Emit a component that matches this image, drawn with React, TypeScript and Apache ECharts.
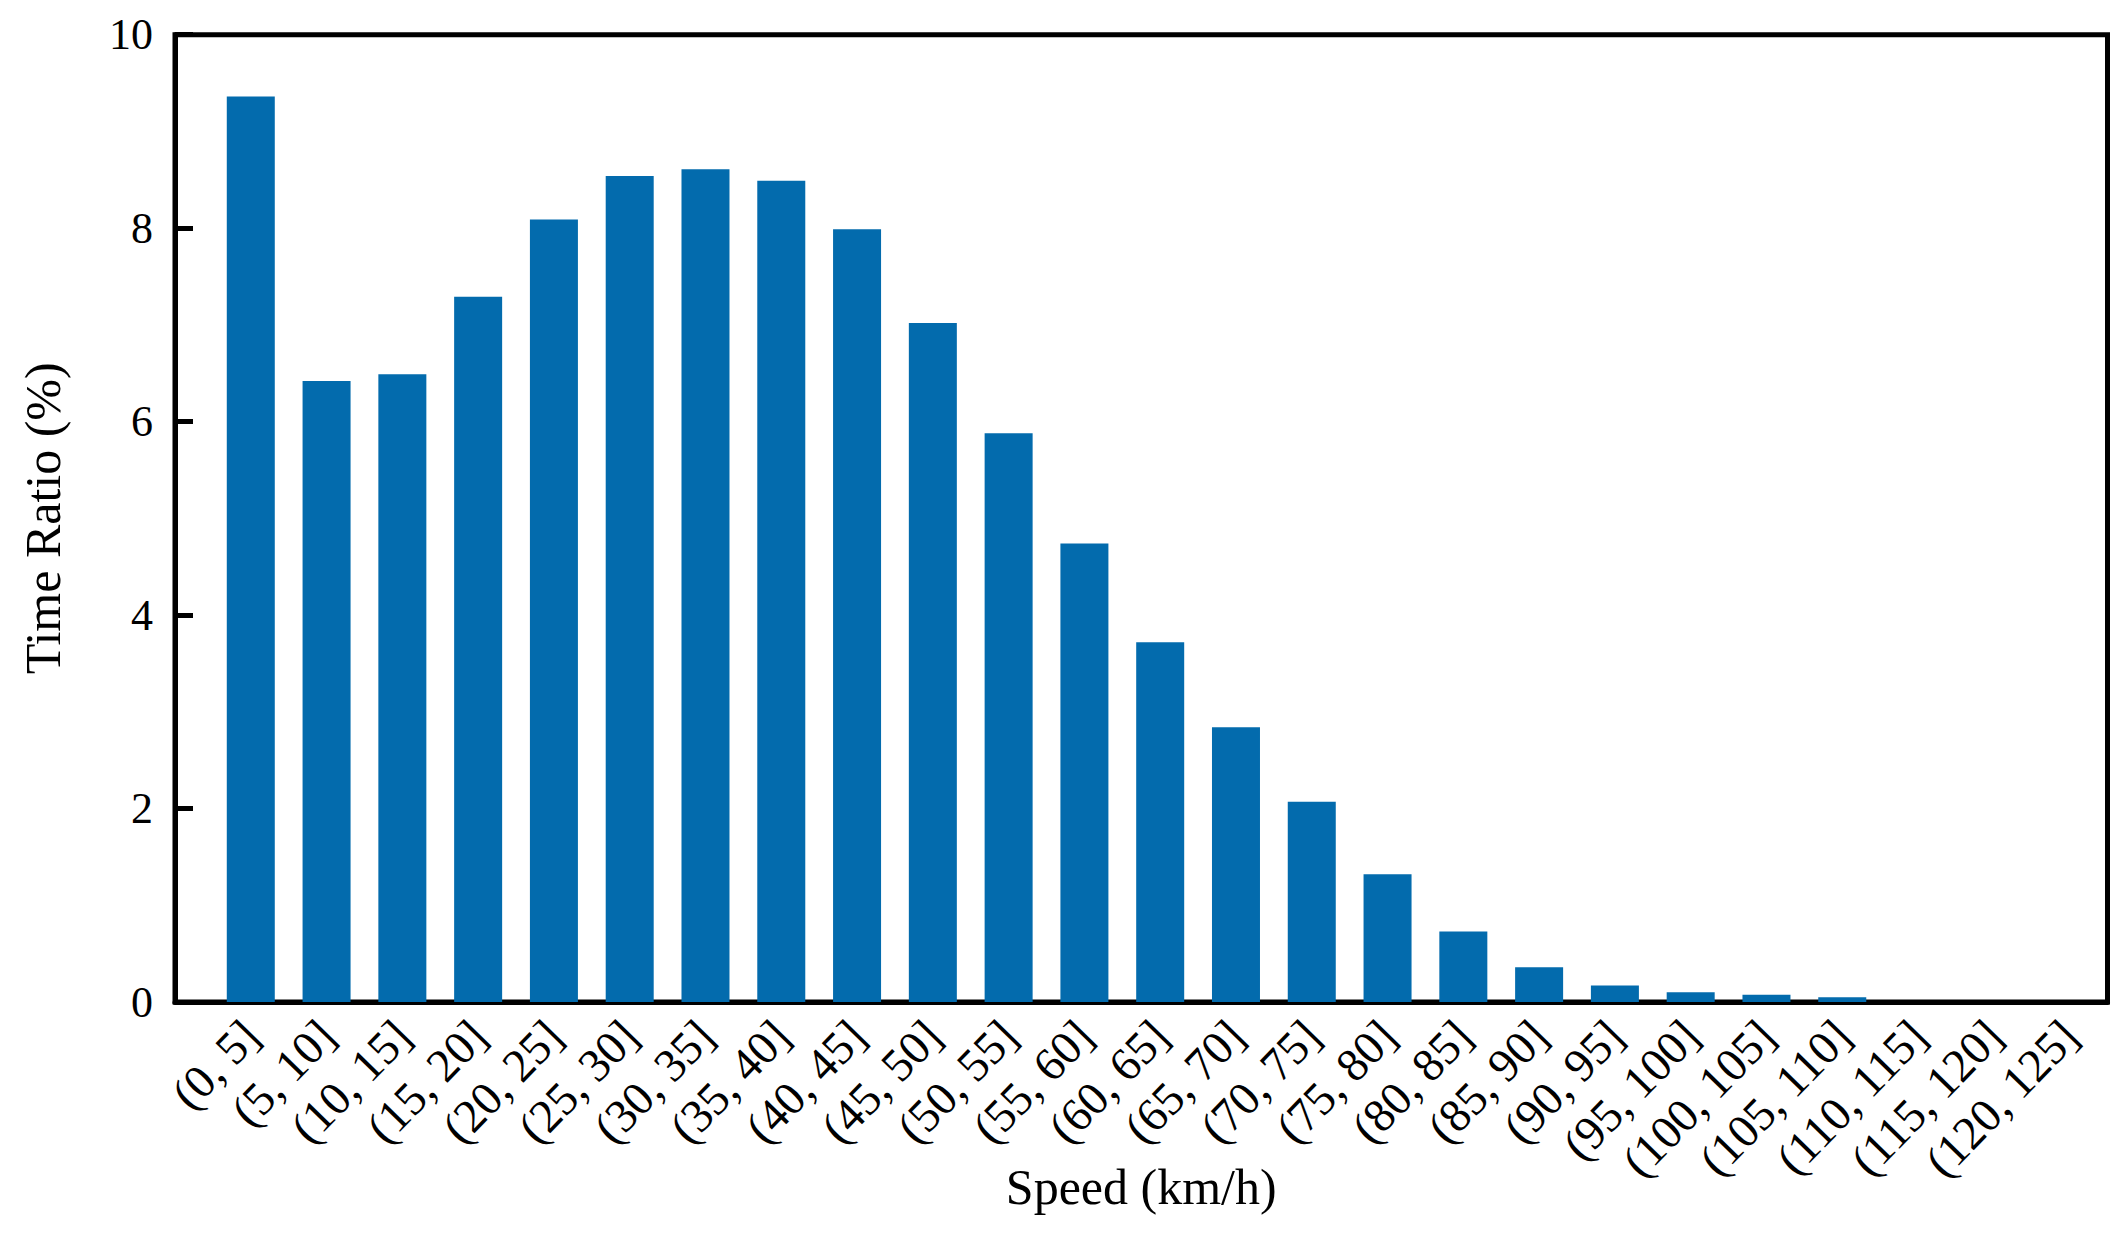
import React, { useEffect, useRef } from "react";
import * as echarts from "echarts";

const categories: string[] = [
  "(0, 5]", "(5, 10]", "(10, 15]", "(15, 20]", "(20, 25]", "(25, 30]", "(30, 35]",
  "(35, 40]", "(40, 45]", "(45, 50]", "(50, 55]", "(55, 60]", "(60, 65]", "(65, 70]",
  "(70, 75]", "(75, 80]", "(80, 85]", "(85, 90]", "(90, 95]", "(95, 100]", "(100, 105]",
  "(105, 110]", "(110, 115]", "(115, 120]", "(120, 125]",
];

const timeRatio: number[] = [
  9.36, 6.42, 6.49, 7.29, 8.09, 8.54, 8.61, 8.49, 7.99, 7.02, 5.88, 4.74, 3.72,
  2.84, 2.07, 1.32, 0.73, 0.36, 0.17, 0.1, 0.075, 0.05, 0, 0, 0,
];

const yTicks: number[] = [0, 2, 4, 6, 8, 10];

const FONT = "'Liberation Serif', 'Times New Roman', serif";

export default function App() {
  const ref = useRef<HTMLDivElement>(null);

  useEffect(() => {
    if (!ref.current) return;
    const chart = echarts.init(ref.current, undefined, { renderer: "svg" });
    chart.setOption({
      animation: false,
      backgroundColor: "#ffffff",
      grid: {
        left: 175,
        right: 15.5,
        top: 34.7,
        bottom: 233,
        show: true,
        borderColor: "#000",
        borderWidth: 5,
        containLabel: false,
        outerBoundsMode: "none",
      },
      xAxis: {
        type: "value",
        min: -1,
        max: 24.5,
        interval: 1,
        name: "Speed (km/h)",
        nameLocation: "middle",
        nameGap: 160,
        nameMoveOverlap: false,
        nameTextStyle: { fontFamily: FONT, fontSize: 50, color: "#000" },
        axisLine: { show: true, onZero: false, lineStyle: { color: "#000", width: 5 } },
        axisTick: { show: false },
        splitLine: { show: false },
        axisLabel: {
          rotate: 46,
          margin: 26,
          fontFamily: FONT,
          fontSize: 47,
          color: "#000",
          showMinLabel: true,
          showMaxLabel: true,
          formatter: (v: number) =>
            Number.isInteger(v) && v >= 0 && v < categories.length ? categories[v] : "",
        },
      },
      yAxis: {
        type: "value",
        min: yTicks[0],
        max: yTicks[yTicks.length - 1],
        interval: 2,
        name: "Time Ratio (%)",
        nameLocation: "middle",
        nameRotate: 90,
        nameGap: 107,
        nameMoveOverlap: false,
        nameTextStyle: { fontFamily: FONT, fontSize: 50, color: "#000" },
        axisLine: { show: true, onZero: false, lineStyle: { color: "#000", width: 5 } },
        axisTick: { show: true, inside: true, length: 18, lineStyle: { color: "#000", width: 5 } },
        splitLine: { show: false },
        axisLabel: { fontFamily: FONT, fontSize: 44, color: "#000", margin: 22 },
      },
      series: [
        {
          type: "bar",
          barWidth: 48,
          itemStyle: { color: "#036bad" },
          data: timeRatio.map((v, i) => [i, v]),
        },
      ],
    });
    return () => chart.dispose();
  }, []);

  return (
    <div
      ref={ref}
      style={{ position: "fixed", left: 0, top: 0, width: 2123, height: 1235, background: "#fff" }}
    />
  );
}
